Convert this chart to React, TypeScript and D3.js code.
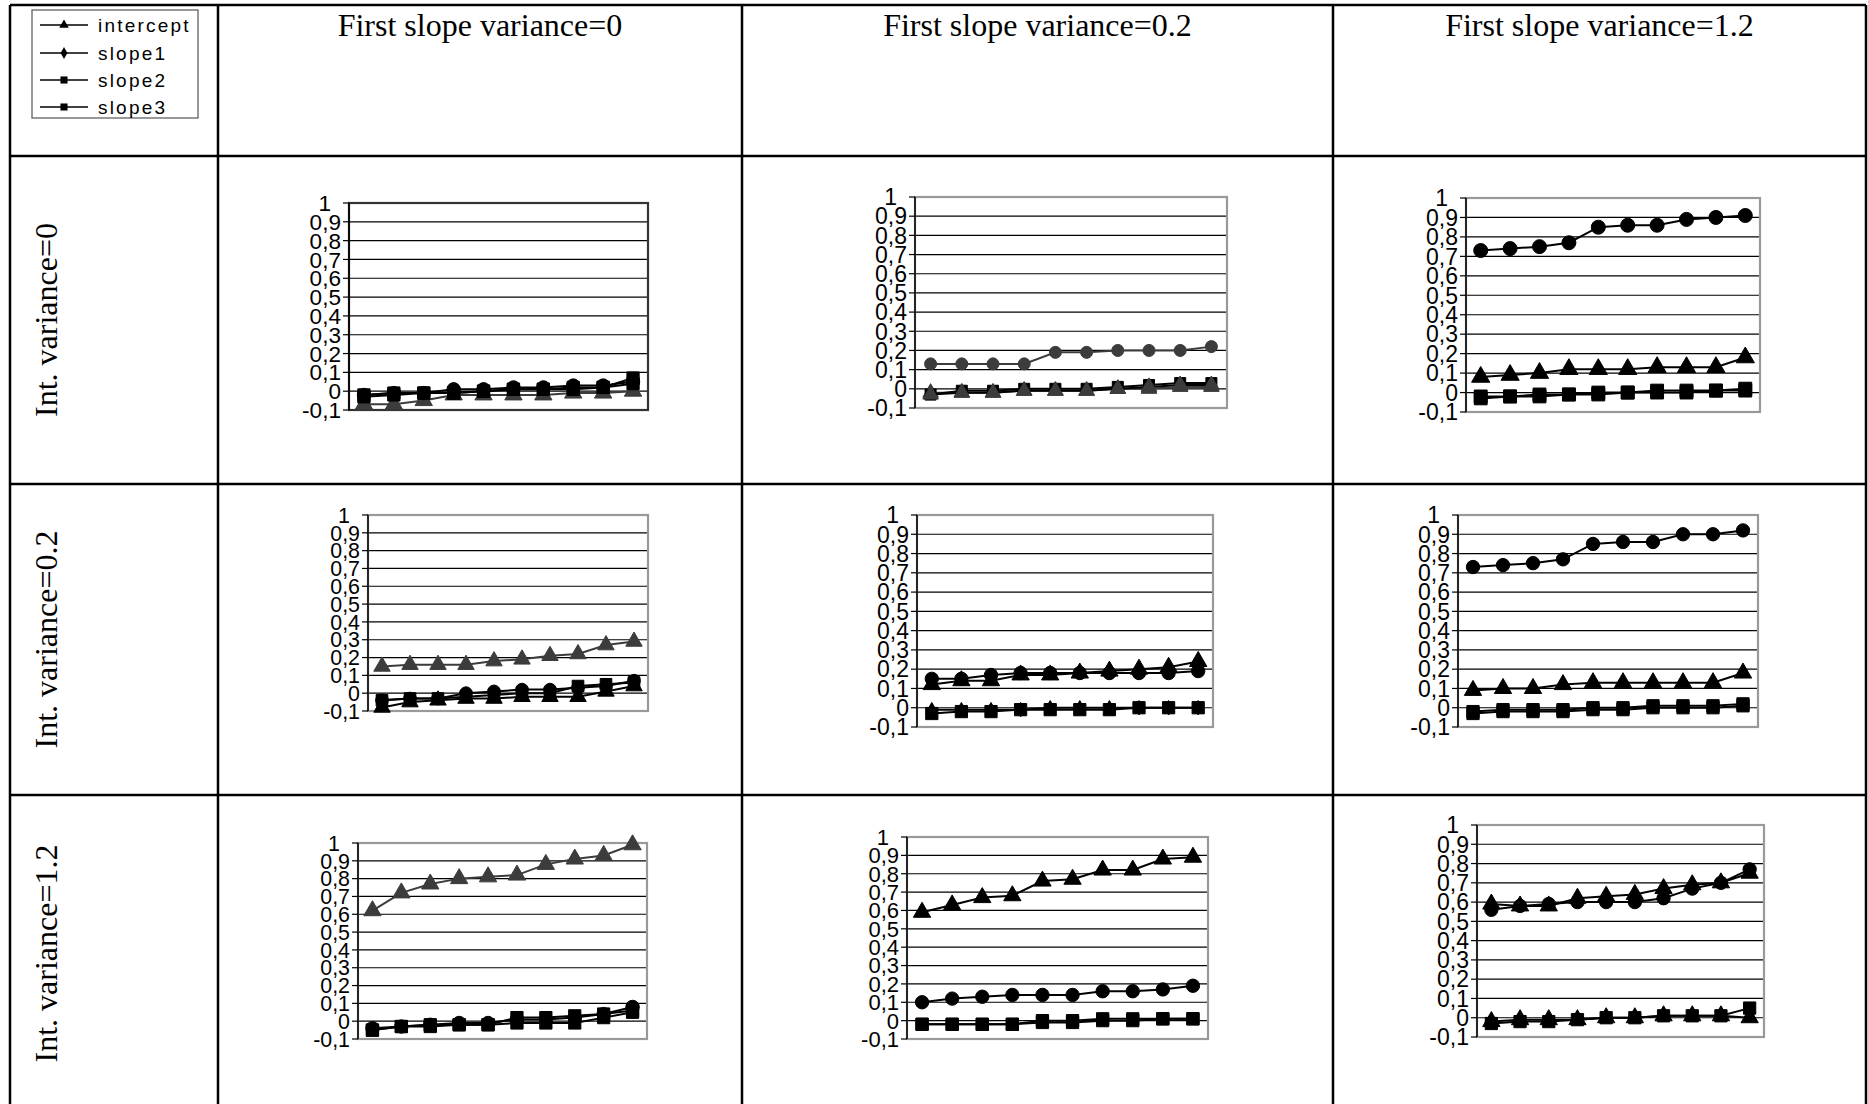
import React from 'react';
import * as d3 from 'd3';

// ---------- labels ----------
const columnHeaders = ['First slope variance=0', 'First slope variance=0.2', 'First slope variance=1.2'];
const rowHeaders = ['Int. variance=0', 'Int. variance=0.2', 'Int. variance=1.2'];
const seriesNames = ['intercept', 'slope1', 'slope2', 'slope3'];
const legendShapes = ['triangle', 'diamond', 'square', 'square'];
const yTicks = [1, 0.9, 0.8, 0.7, 0.6, 0.5, 0.4, 0.3, 0.2, 0.1, 0, -0.1];
const categories = [1, 2, 3, 4, 5, 6, 7, 8, 9, 10];

// ---------- data (row = Int. variance, col = First slope variance) ----------
const r0c0_intercept = [-0.07, -0.07, -0.05, -0.02, -0.02, -0.02, -0.02, -0.01, -0.01, 0.0];
const r0c0_slope1 = [-0.02, -0.01, -0.01, 0.01, 0.01, 0.02, 0.02, 0.03, 0.03, 0.05];
const r0c0_slope2 = [-0.02, -0.01, -0.01, -0.01, 0.0, 0.01, 0.01, 0.02, 0.02, 0.07];
const r0c0_slope3 = [-0.03, -0.02, -0.01, -0.01, 0.0, 0.01, 0.01, 0.01, 0.02, 0.04];

const r0c1_intercept = [-0.02, -0.02, -0.02, -0.01, -0.01, -0.01, 0.0, 0.0, 0.01, 0.01];
const r0c1_slope1 = [0.13, 0.13, 0.13, 0.13, 0.19, 0.19, 0.2, 0.2, 0.2, 0.22];
const r0c1_slope2 = [-0.03, -0.01, -0.01, 0.0, 0.0, 0.0, 0.01, 0.02, 0.03, 0.03];
const r0c1_slope3 = [-0.03, -0.02, -0.02, -0.01, -0.01, -0.01, 0.0, 0.01, 0.02, 0.02];

const r0c2_intercept = [0.08, 0.09, 0.1, 0.12, 0.12, 0.12, 0.13, 0.13, 0.13, 0.18];
const r0c2_slope1 = [0.73, 0.74, 0.75, 0.77, 0.85, 0.86, 0.86, 0.89, 0.9, 0.91];
const r0c2_slope2 = [-0.03, -0.02, -0.02, -0.01, -0.01, 0.0, 0.0, 0.0, 0.01, 0.01];
const r0c2_slope3 = [-0.02, -0.02, -0.01, -0.01, 0.0, 0.0, 0.01, 0.01, 0.01, 0.02];

const r1c0_intercept = [0.15, 0.16, 0.16, 0.16, 0.18, 0.19, 0.21, 0.22, 0.27, 0.29];
const r1c0_slope1 = [-0.04, -0.03, -0.03, 0.0, 0.01, 0.02, 0.02, 0.03, 0.04, 0.07];
const r1c0_slope2 = [-0.04, -0.03, -0.03, -0.02, -0.01, 0.0, 0.0, 0.04, 0.05, 0.06];
const r1c0_slope3 = [-0.08, -0.05, -0.04, -0.03, -0.03, -0.02, -0.02, -0.02, 0.01, 0.04];

const r1c1_intercept = [0.12, 0.14, 0.14, 0.17, 0.17, 0.18, 0.19, 0.2, 0.21, 0.24];
const r1c1_slope1 = [0.15, 0.15, 0.17, 0.18, 0.18, 0.18, 0.18, 0.18, 0.18, 0.19];
const r1c1_slope2 = [-0.03, -0.02, -0.02, -0.01, -0.01, -0.01, -0.01, 0.0, 0.0, 0.0];
const r1c1_slope3 = [-0.01, -0.01, -0.01, -0.01, 0.0, 0.0, 0.0, 0.0, 0.0, 0.0];

const r1c2_intercept = [0.09, 0.1, 0.1, 0.12, 0.13, 0.13, 0.13, 0.13, 0.13, 0.18];
const r1c2_slope1 = [0.73, 0.74, 0.75, 0.77, 0.85, 0.86, 0.86, 0.9, 0.9, 0.92];
const r1c2_slope2 = [-0.02, -0.01, -0.01, -0.01, 0.0, 0.0, 0.01, 0.01, 0.01, 0.02];
const r1c2_slope3 = [-0.03, -0.02, -0.02, -0.02, -0.01, -0.01, 0.0, 0.0, 0.0, 0.01];

const r2c0_intercept = [0.62, 0.72, 0.77, 0.8, 0.81, 0.82, 0.88, 0.91, 0.93, 0.99];
const r2c0_slope1 = [-0.04, -0.03, -0.02, -0.01, -0.01, 0.01, 0.01, 0.02, 0.04, 0.08];
const r2c0_slope2 = [-0.05, -0.03, -0.02, -0.02, -0.02, 0.02, 0.02, 0.03, 0.04, 0.06];
const r2c0_slope3 = [-0.05, -0.03, -0.03, -0.02, -0.02, -0.01, -0.01, -0.01, 0.02, 0.05];

const r2c1_intercept = [0.59, 0.63, 0.67, 0.68, 0.76, 0.77, 0.82, 0.82, 0.88, 0.89];
const r2c1_slope1 = [0.1, 0.12, 0.13, 0.14, 0.14, 0.14, 0.16, 0.16, 0.17, 0.19];
const r2c1_slope2 = [-0.02, -0.02, -0.02, -0.02, 0.0, 0.0, 0.01, 0.01, 0.01, 0.01];
const r2c1_slope3 = [-0.02, -0.02, -0.02, -0.02, -0.01, -0.01, 0.0, 0.0, 0.01, 0.01];

const r2c2_intercept = [0.59, 0.58, 0.58, 0.62, 0.63, 0.64, 0.67, 0.69, 0.7, 0.75];
const r2c2_slope1 = [0.56, 0.58, 0.59, 0.6, 0.6, 0.6, 0.62, 0.67, 0.7, 0.77];
const r2c2_slope2 = [-0.03, -0.02, -0.02, -0.01, 0.0, 0.0, 0.01, 0.01, 0.01, 0.05];
const r2c2_slope3 = [-0.02, -0.01, -0.01, -0.01, 0.0, 0.0, 0.01, 0.01, 0.01, 0.0];

// ---------- layout ----------
const W = 1868;
const H = 1104;
const colX = [10, 218, 742, 1333, 1866];
const rowY = [5, 156, 484, 795, 1112];

type Shape = 'triangle' | 'circle' | 'square' | 'diamond';
interface Panel {
  row: number; col: number;
  box: [number, number, number, number]; // left, right, top, bottom
  frame: string;
  ms: number;
  series: { values: number[]; shape: Shape; fill: string; stroke: string }[];
}

const G = '#3c3c3c';
const K = '#000';
const panels: Panel[] = [
  { row: 0, col: 0, box: [349, 648, 203, 410], frame: '#333', ms: 1,
    series: [
      { values: r0c0_intercept, shape: 'triangle', fill: G, stroke: G },
      { values: r0c0_slope1, shape: 'circle', fill: K, stroke: K },
      { values: r0c0_slope2, shape: 'square', fill: K, stroke: K },
      { values: r0c0_slope3, shape: 'square', fill: K, stroke: K },
    ] },
  { row: 0, col: 1, box: [915, 1227, 197, 408], frame: '#999', ms: 0.9,
    series: [
      { values: r0c1_intercept, shape: 'triangle', fill: G, stroke: G },
      { values: r0c1_slope1, shape: 'circle', fill: G, stroke: G },
      { values: r0c1_slope2, shape: 'square', fill: K, stroke: K },
      { values: r0c1_slope3, shape: 'triangle', fill: G, stroke: K },
    ] },
  { row: 0, col: 2, box: [1466, 1760, 198, 412], frame: '#999', ms: 1.05,
    series: [
      { values: r0c2_intercept, shape: 'triangle', fill: K, stroke: K },
      { values: r0c2_slope1, shape: 'circle', fill: K, stroke: K },
      { values: r0c2_slope2, shape: 'square', fill: K, stroke: K },
      { values: r0c2_slope3, shape: 'square', fill: K, stroke: K },
    ] },
  { row: 1, col: 0, box: [368, 648, 515, 711], frame: '#999', ms: 0.95,
    series: [
      { values: r1c0_intercept, shape: 'triangle', fill: G, stroke: G },
      { values: r1c0_slope1, shape: 'circle', fill: K, stroke: K },
      { values: r1c0_slope2, shape: 'square', fill: K, stroke: K },
      { values: r1c0_slope3, shape: 'triangle', fill: K, stroke: K },
    ] },
  { row: 1, col: 1, box: [917, 1213, 515, 727], frame: '#999', ms: 1,
    series: [
      { values: r1c1_intercept, shape: 'triangle', fill: K, stroke: K },
      { values: r1c1_slope1, shape: 'circle', fill: K, stroke: K },
      { values: r1c1_slope3, shape: 'diamond', fill: K, stroke: K },
      { values: r1c1_slope2, shape: 'square', fill: K, stroke: K },
    ] },
  { row: 1, col: 2, box: [1458, 1758, 515, 727], frame: '#999', ms: 1,
    series: [
      { values: r1c2_intercept, shape: 'triangle', fill: K, stroke: K },
      { values: r1c2_slope1, shape: 'circle', fill: K, stroke: K },
      { values: r1c2_slope2, shape: 'square', fill: K, stroke: K },
      { values: r1c2_slope3, shape: 'square', fill: K, stroke: K },
    ] },
  { row: 2, col: 0, box: [358, 647, 843, 1039], frame: '#999', ms: 1,
    series: [
      { values: r2c0_intercept, shape: 'triangle', fill: G, stroke: G },
      { values: r2c0_slope1, shape: 'circle', fill: K, stroke: K },
      { values: r2c0_slope2, shape: 'square', fill: K, stroke: K },
      { values: r2c0_slope3, shape: 'square', fill: K, stroke: K },
    ] },
  { row: 2, col: 1, box: [907, 1208, 837, 1039], frame: '#999', ms: 1,
    series: [
      { values: r2c1_intercept, shape: 'triangle', fill: K, stroke: K },
      { values: r2c1_slope1, shape: 'circle', fill: K, stroke: K },
      { values: r2c1_slope2, shape: 'square', fill: K, stroke: K },
      { values: r2c1_slope3, shape: 'square', fill: K, stroke: K },
    ] },
  { row: 2, col: 2, box: [1477, 1764, 825, 1037], frame: '#999', ms: 1,
    series: [
      { values: r2c2_intercept, shape: 'triangle', fill: K, stroke: K },
      { values: r2c2_slope1, shape: 'circle', fill: K, stroke: K },
      { values: r2c2_slope3, shape: 'triangle', fill: K, stroke: K },
      { values: r2c2_slope2, shape: 'square', fill: K, stroke: K },
    ] },
];

const symbolType = (s: Shape) =>
  s === 'triangle' ? d3.symbolTriangle : s === 'circle' ? d3.symbolCircle : s === 'diamond' ? d3.symbolDiamond : d3.symbolSquare;
const symbolArea = (s: Shape) =>
  s === 'triangle' ? 130 : s === 'circle' ? 140 : s === 'diamond' ? 60 : 150;

const fmt = (v: number) => d3.format('.1~f')(v).replace('.', ',').replace('−', '-');

const SANS = "'Liberation Sans', Arial, sans-serif";
const SERIF = "'Liberation Serif', 'Times New Roman', serif";

function PanelChart({ p }: { p: Panel }) {
  const [l, r, t, b] = p.box;
  const y = d3.scaleLinear().domain([-0.1, 1]).range([b, t]);
  const x = d3.scalePoint<number>().domain(categories).range([l, r]).padding(0.5);
  const line = d3.line<number>().x((_, i) => x(categories[i]) as number).y((v) => y(v));
  const step = Math.abs(y(0) - y(0.1));
  const fs = Math.min(23, step * 1.2);
  return (
    <g>
      <rect x={l} y={t} width={r - l} height={b - t} fill="#fff" />
      {yTicks.filter((v) => v > -0.1 && v < 1).map((v) => (
        <line key={v} x1={l} x2={r} y1={y(v)} y2={y(v)} stroke="#000" strokeWidth={1.2} />
      ))}
      <rect x={l} y={t} width={r - l} height={b - t} fill="none" stroke={p.frame} strokeWidth={2.2} />
      <line x1={l} x2={l} y1={t} y2={b} stroke="#000" strokeWidth={1.5} />
      {yTicks.map((v) => (
        <g key={'t' + v}>
          <line x1={l - 6} x2={l} y1={y(v)} y2={y(v)} stroke="#000" strokeWidth={1.2} />
          <text x={l - 8 - (v === 1 ? 10 : 0)} y={y(v)} dy="0.36em" textAnchor="end"
            fontFamily={SANS} fontSize={fs} fill="#000">{fmt(v)}</text>
        </g>
      ))}
      {p.series.map((s, si) => (
        <g key={si}>
          <path d={line(s.values) || ''} fill="none" stroke={s.stroke} strokeWidth={2} />
          {s.values.map((v, i) => (
            <path key={i}
              d={d3.symbol().type(symbolType(s.shape)).size(symbolArea(s.shape) * p.ms * p.ms)() || ''}
              transform={`translate(${x(categories[i])},${y(v)})`}
              fill={s.fill} stroke={s.fill} strokeWidth={1} />
          ))}
        </g>
      ))}
    </g>
  );
}

function Legend() {
  const ys = [25, 53, 80, 107];
  return (
    <g>
      <rect x={32} y={10} width={166} height={108} fill="#fff" stroke="#555" strokeWidth={1.2} />
      {seriesNames.map((n, i) => (
        <g key={n}>
          <line x1={40} x2={88} y1={ys[i]} y2={ys[i]} stroke="#000" strokeWidth={1.5} />
          <path d={d3.symbol().type(symbolType(legendShapes[i] as Shape)).size(legendShapes[i] === 'square' ? 50 : 40)() || ''}
            transform={`translate(64,${ys[i]})`} fill="#000" />
          <text x={98} y={ys[i]} dy="0.36em" fontFamily={SANS} fontSize={19} letterSpacing={2.2}
            fill="#000">{n}</text>
        </g>
      ))}
    </g>
  );
}

export default function App() {
  return (
    <svg width={W} height={H} viewBox={`0 0 ${W} ${H}`}
      style={{ position: 'absolute', left: 0, top: 0, background: '#fff' }}>
      <rect x={0} y={0} width={W} height={H} fill="#fff" />
      {/* table grid */}
      {colX.map((cx, i) => (
        <line key={'c' + i} x1={cx} x2={cx} y1={rowY[0]} y2={rowY[4]} stroke="#000" strokeWidth={2.5} />
      ))}
      {rowY.map((ry, i) => (
        <line key={'r' + i} x1={colX[0]} x2={colX[4]} y1={ry} y2={ry} stroke="#000" strokeWidth={2.5} />
      ))}
      {columnHeaders.map((h, i) => (
        <text key={h} x={(colX[i + 1] + colX[i + 2]) / 2} y={36} textAnchor="middle"
          fontFamily={SERIF} fontSize={32} fill="#000">{h}</text>
      ))}
      {rowHeaders.map((h, i) => {
        const cy = (rowY[i + 1] + rowY[i + 2]) / 2;
        return (
          <text key={h} transform={`translate(57,${cy}) rotate(-90)`} textAnchor="middle"
            fontFamily={SERIF} fontSize={32} fill="#000">{h}</text>
        );
      })}
      <Legend />
      {panels.map((p, i) => <PanelChart key={i} p={p} />)}
    </svg>
  );
}
